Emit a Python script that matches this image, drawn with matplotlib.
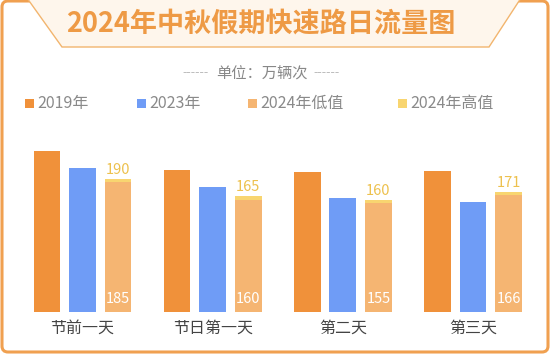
import numpy as np
import matplotlib
matplotlib.use("Agg")
import matplotlib.pyplot as plt
import matplotlib.patheffects as pe
from matplotlib.patches import Polygon, FancyBboxPatch, Rectangle

plt.rcParams['font.family'] = ['Noto Sans CJK SC', 'DejaVu Sans']

# data (万辆次)
days = ["节前一天", "节日第一天", "第二天", "第三天"]
v2019 = [230, 202, 199, 201]
v2023 = [205, 178, 162, 157]
low2024 = [185, 160, 155, 166]
high2024 = [190, 165, 160, 171]

c2019 = "#F0913A"
c2023 = "#6F9CF6"
clow = "#F5B572"
chigh = "#F8D570"
ctitle = "#EE9A45"

W, H = 550, 354
fig = plt.figure(figsize=(W / 100, H / 100), dpi=100)
fig.patch.set_facecolor("white")

# background / decoration axes in pixel coords
bg = fig.add_axes([0, 0, 1, 1])
bg.set_xlim(0, W)
bg.set_ylim(H, 0)
bg.axis("off")

bg.add_patch(FancyBboxPatch((2, 1), W - 4, H - 3, boxstyle="round,pad=0,rounding_size=6",
                            facecolor="white", edgecolor="#F0A050", lw=2.2))
bg.add_patch(Polygon([(27, -2), (521, -2), (489, 47), (62, 47)], closed=True,
                     facecolor="#FEF6EC", edgecolor="#F2B56E", lw=1))
bg.text(261, 24, "2024年中秋假期快速路日流量图", ha="center", va="center",
        fontsize=19.5, fontweight="bold", color=ctitle)

# watermark
bg.text(270, 215, "SMTCC", ha="center", va="center", fontsize=96,
        family="DejaVu Sans", color="white", zorder=0,
        path_effects=[pe.withStroke(linewidth=2.5, foreground="#EAEAEA")])

bg.text(262, 74, "单位：万辆次", ha="center", va="center", fontsize=11, color="#888888")
bg.text(196, 73, "------", ha="center", va="center", fontsize=9, color="#BBBBBB")
bg.text(327, 73, "------", ha="center", va="center", fontsize=9, color="#BBBBBB")

legend_items = [("2019年", c2019, 25), ("2023年", c2023, 137),
                ("2024年低值", clow, 248), ("2024年高值", chigh, 398)]
for lab, col, x0 in legend_items:
    bg.add_patch(Rectangle((x0, 99), 8.5, 8.5, facecolor=col, edgecolor="none"))
    bg.text(x0 + 12, 103.5, lab, ha="left", va="center", fontsize=11.5, color="#8A8A8A")

# bar axes
bx0, bx1 = 20, 535
base, top = 311.7, 130
ax = fig.add_axes([bx0 / W, (H - base) / H, (bx1 - bx0) / W, (base - top) / H])
ax.patch.set_alpha(0)
ax.set_xlim((bx0 - 82.5) / 130.17, (bx1 - 82.5) / 130.17)
ax.set_ylim(0, (base - top) / 0.70)

x = np.arange(len(days))
step = 0.273
bw = 0.205
ax.bar(x - step, v2019, bw, color=c2019, zorder=2)
ax.bar(x, v2023, bw, color=c2023, zorder=2)
ax.bar(x + step, np.array(high2024) - np.array(low2024), bw, bottom=low2024,
       color=chigh, zorder=2)
ax.bar(x + step, low2024, bw, color=clow, zorder=2)

for xi, lo, hi in zip(x, low2024, high2024):
    ax.annotate(str(hi), (xi + step, hi), xytext=(0, 1.5), textcoords="offset points",
                ha="center", va="bottom", fontsize=10.5, color="#EDC14E")
    ax.annotate(str(lo), (xi + step, 0), xytext=(0, 4), textcoords="offset points",
                ha="center", va="bottom", fontsize=10.5, color="white")

ax.set_xticks(x)
ax.set_xticklabels(days, fontsize=11.5, color="#444444")
ax.tick_params(axis="x", length=0, pad=5.5)
ax.set_yticks([])
for s in ax.spines.values():
    s.set_visible(False)

fig.savefig("out.png", dpi=100)
